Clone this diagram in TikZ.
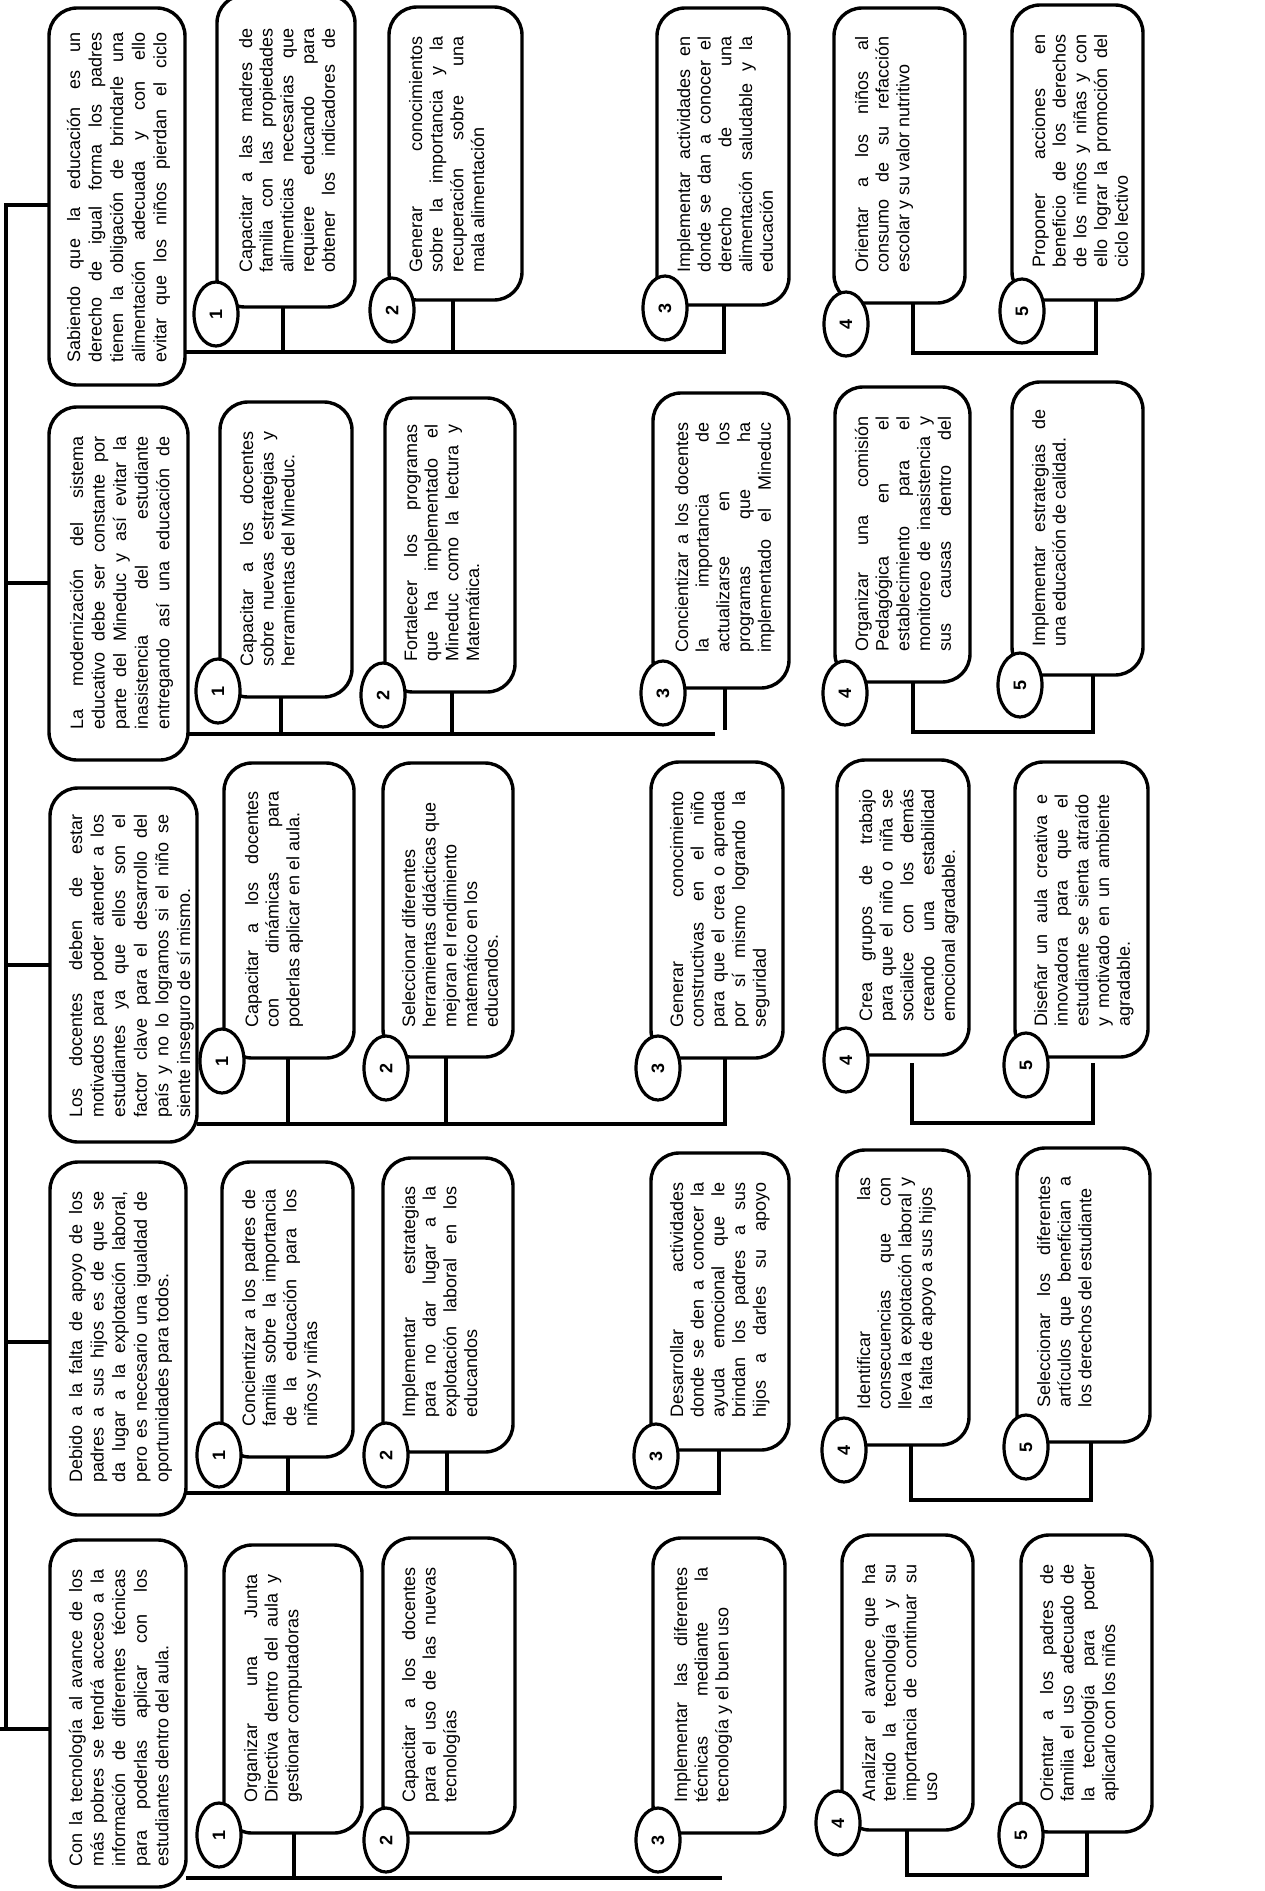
\documentclass[tikz,border=0pt]{standalone}
\usepackage{fontspec}
\setmainfont{Liberation Sans}
\usetikzlibrary{shapes.geometric}
\newlength\tw
\newcommand\J[1]{\makebox[\tw][s]{#1}\\}
\newcommand\JJ[1]{\makebox[\tw][s]{#1}}
\newcommand\bx[5]{\node[box,minimum width={#4-#2},minimum height={#5-#3}] (#1) at ({(#2+#4)/2},{-(#3+#5)/2}) {};}
\newcommand\tx[5]{\node[txt,text width=#4pt] (#1) at (#2,-#3) {\spaceskip=0pt\xspaceskip=0pt\setlength{\tw}{#4pt}#5};}
\newcommand\mt[5]{\node[mtxt,text width=#4pt] (#1) at (#2,-#3) {\spaceskip=0pt\xspaceskip=0pt\setlength{\tw}{#4pt}#5};}
\tikzset{
  box/.style={draw,line width=3.4pt,rounded corners=28pt,inner sep=0pt,outer sep=0pt},
  txt/.style={rotate=90,anchor=base west,inner sep=0pt,align=left,font=\fontsize{18}{20.7}\selectfont},
  mtxt/.style={txt,font=\fontsize{18}{21.6}\selectfont},
  num/.style={draw,ellipse,fill=white,line width=3.2pt,rotate=90,minimum width=64pt,minimum height=44pt,inner sep=0pt,font=\fontsize{18}{18}\selectfont\bfseries},
  conn/.style={line width=3.4pt}
}
\begin{document}
\begin{tikzpicture}[x=1pt,y=1pt]
\useasboundingbox (0,0) rectangle (1265,-1891);
\clip (0,0) rectangle (1265,-1891);
% ---------------- boxes
\bx{M1}{49}{8}{185}{385}
\bx{B11}{217}{-5}{355}{307}
\bx{B12}{389}{7}{522}{300}
\bx{B13}{657}{8}{789}{305}
\bx{B14}{834}{8}{965}{303}
\bx{B15}{1012}{5}{1143}{300}
\bx{M2}{49}{407}{188}{760}
\bx{B21}{220}{402}{352}{697}
\bx{B22}{385}{398}{515}{692}
\bx{B23}{653}{393}{789}{688}
\bx{B24}{835}{387}{970}{682}
\bx{B25}{1012}{382}{1143}{675}
\bx{M3}{50}{788}{197}{1142}
\bx{B31}{224}{763}{354}{1058}
\bx{B32}{383}{763}{513}{1057}
\bx{B33}{651}{762}{783}{1058}
\bx{B34}{837}{760}{969}{1055}
\bx{B35}{1015}{762}{1148}{1057}
\bx{M4}{50}{1162}{186}{1515}
\bx{B41}{222}{1162}{353}{1457}
\bx{B42}{383}{1158}{513}{1452}
\bx{B43}{651}{1153}{789}{1450}
\bx{B44}{837}{1150}{969}{1445}
\bx{B45}{1017}{1148}{1150}{1442}
\bx{M5}{50}{1540}{186}{1887}
\bx{B51}{224}{1545}{362}{1833}
\bx{B52}{383}{1538}{515}{1833}
\bx{B53}{653}{1538}{785}{1833}
\bx{B54}{842}{1535}{973}{1830}
\bx{B55}{1021}{1535}{1152}{1832}
% ---------------- trunk
\coordinate (tk1) at (6,-205);
\coordinate (tk2) at (6,-583);
\coordinate (tk3) at (6,-965);
\coordinate (tk4) at (6,-1342);
\coordinate (tk5) at (6,-1729);
\coordinate (tk0) at (0,-1729);
\draw[conn] ([yshift=2pt]tk1) -- (tk5);
\draw[conn] (tk1) -- (M1.west |- tk1);
\draw[conn] (tk2) -- (M2.west |- tk2);
\draw[conn] (tk3) -- (M3.west |- tk3);
\draw[conn] (tk4) -- (M4.west |- tk4);
\draw[conn] (tk0) -- (M5.west |- tk0);
% ---------------- band 1 connectors
\coordinate (h1) at (724,-352);
\coordinate (v11) at (283,-352);
\coordinate (v12) at (453,-352);
\draw[conn] (M1.east |- h1) -- (h1) -- (h1 |- B13.south);
\draw[conn] (v11 |- B11.south) -- (v11);
\draw[conn] (v12 |- B12.south) -- (v12);
\coordinate (p1) at (913,-353);
\coordinate (q1) at (1096,-353);
\draw[conn] (p1 |- B14.south) -- (p1) -- (q1) -- (q1 |- B15.south);
% ---------------- band 2 connectors
\coordinate (h2) at (715,-734);
\coordinate (v21) at (281,-734);
\coordinate (v22) at (452,-734);
\coordinate (v23) at (725,-730);
\draw[conn] (M2.east |- h2) -- (h2);
\draw[conn] (v21 |- B21.south) -- (v21);
\draw[conn] (v22 |- B22.south) -- (v22);
\draw[conn] (v23 |- B23.south) -- (v23);
\coordinate (p2) at (913,-732);
\coordinate (q2) at (1093,-732);
\draw[conn] (p2 |- B24.south) -- (p2) -- (q2) -- (q2 |- B25.south);
% ---------------- band 3 connectors
\coordinate (h3) at (725,-1124);
\coordinate (v31) at (288,-1124);
\coordinate (v32) at (446,-1124);
\draw[conn] (M3.east |- h3) -- (h3) -- (h3 |- B33.south);
\draw[conn] (v31 |- B31.south) -- (v31);
\draw[conn] (v32 |- B32.south) -- (v32);
\coordinate (p3) at (912,-1123);
\coordinate (q3) at (1093,-1123);
\coordinate (r3) at (0,-1063);
\draw[conn] (p3 |- r3) -- (p3) -- (q3) -- (q3 |- r3);
% ---------------- band 4 connectors
\coordinate (h4) at (719,-1493);
\coordinate (v41) at (288,-1493);
\coordinate (v42) at (447,-1493);
\draw[conn] (M4.east |- h4) -- (h4) -- (h4 |- B43.south);
\draw[conn] (v41 |- B41.south) -- (v41);
\draw[conn] (v42 |- B42.south) -- (v42);
\coordinate (p4) at (911,-1500);
\coordinate (q4) at (1091,-1500);
\draw[conn] (p4 |- B44.south) -- (p4) -- (q4) -- (q4 |- B45.south);
% ---------------- band 5 connectors
\coordinate (h5) at (722,-1878);
\coordinate (v51) at (294,-1878);
\draw[conn] (M5.east |- h5) -- (h5);
\draw[conn] (v51 |- B51.south) -- (v51);
\coordinate (p5) at (907,-1875);
\coordinate (q5) at (1087,-1875);
\draw[conn] (p5 |- B54.south) -- (p5) -- (q5) -- (q5 |- B55.south);
% ---------------- number ellipses
\node[num] (n11) at (216,-314) {1};
\node[num] (n12) at (392,-310) {2};
\node[num] (n13) at (665,-308) {3};
\node[num] (n14) at (846,-324) {4};
\node[num] (n15) at (1022,-311) {5};
\node[num] (n21) at (218,-691) {1};
\node[num] (n22) at (383,-695) {2};
\node[num] (n23) at (663,-693) {3};
\node[num] (n24) at (845,-693) {4};
\node[num] (n25) at (1020,-685) {5};
\node[num] (n31) at (222,-1061) {1};
\node[num] (n32) at (386,-1068) {2};
\node[num] (n33) at (658,-1068) {3};
\node[num] (n34) at (846,-1060) {4};
\node[num] (n35) at (1026,-1065) {5};
\node[num] (n41) at (219,-1455) {1};
\node[num] (n42) at (386,-1455) {2};
\node[num] (n43) at (656,-1456) {3};
\node[num] (n44) at (844,-1450) {4};
\node[num] (n45) at (1026,-1447) {5};
\node[num] (n51) at (219,-1835) {1};
\node[num] (n52) at (386,-1840) {2};
\node[num] (n53) at (658,-1840) {3};
\node[num] (n54) at (838,-1823) {4};
\node[num] (n55) at (1021,-1835) {5};
% ---------------- main texts
\mt{tm1}{80}{363}{330}{\J{Sabiendo que la educación es un}\J{derecho de igual forma los padres}\J{tienen la obligación de brindarle una}\J{alimentación adecuada y con ello}\JJ{evitar que los niños pierdan el ciclo}}
\mt{tm2}{83}{730}{293}{\J{La modernización del sistema}\J{educativo debe ser constante por}\J{parte del Mineduc y así evitar la}\J{inasistencia del estudiante}\JJ{entregando así una educación de}}
\mt{tm3}{82}{1118}{303}{\J{Los docentes deben de estar}\J{motivados para poder atender a los}\J{estudiantes ya que ellos son el}\J{factor clave para el desarrollo del}\J{país y no lo logramos si el niño se}siente inseguro de sí mismo.}
\mt{tm4}{82}{1483}{291}{\J{Debido a la falta de apoyo de los}\J{padres a sus hijos es de que se}\J{da lugar a la explotación laboral,}\J{pero es necesario una igualdad de}oportunidades para todos.}
\mt{tm5}{82}{1867}{297}{\J{Con la tecnología al avance de los}\J{más pobres se tendrá acceso a la}\J{información de diferentes técnicas}\J{para poderlas aplicar con los}estudiantes dentro del aula.}
% ---------------- band 1 texts
\tx{t11}{252}{273}{244}{\J{Capacitar a las madres de}\J{familia con las propiedades}\J{alimenticias necesarias que}\J{requiere educando para}\JJ{obtener los indicadores de}}
\tx{t12}{422}{273}{236}{\J{Generar conocimientos}\J{sobre la importancia y la}\J{recuperación sobre una}mala alimentación}
\tx{t13}{690}{273}{236}{\J{Implementar actividades en}\J{donde se dan a conocer el}\J{derecho de una}\J{alimentación saludable y la}educación}
\tx{t14}{868}{273}{236}{\J{Orientar a los niños al}\J{consumo de su refacción}escolar y su valor nutritivo}
\tx{t15}{1045}{268}{233}{\J{Proponer acciones en}\J{beneficio de los derechos}\J{de los niños y niñas y con}\J{ello lograr la promoción del}ciclo lectivo}
% ---------------- band 2 texts
\tx{t21}{253}{667}{235}{\J{Capacitar a los docentes}\J{sobre nuevas estrategias y}herramientas del Mineduc.}
\tx{t22}{417}{662}{237}{\J{Fortalecer los programas}\J{que ha implementado el}\J{Mineduc como la lectura y}Matemática.}
\tx{t23}{688}{653}{230}{\J{Concientizar a los docentes}\J{la importancia de}\J{actualizarse en los}\J{programas que ha}\JJ{implementado el Mineduc}}
\tx{t24}{868}{652}{235}{\J{Organizar una comisión}\J{Pedagógica en el}\J{establecimiento para el}\J{monitoreo de inasistencia y}\JJ{sus causas dentro del}}
\tx{t25}{1045}{647}{237}{\J{Implementar estrategias de}una educación de calidad.}
% ---------------- band 3 texts
\tx{t31}{258}{1028}{236}{\J{Capacitar a los docentes}\J{con dinámicas para}poderlas aplicar en el aula.}
\tx{t32}{415}{1028}{236}{Seleccionar diferentes\\herramientas didácticas que\\mejoran el rendimiento\\matemático en los\\educandos.}
\tx{t33}{683}{1028}{236}{\J{Generar conocimiento}\J{constructivas en el niño}\J{para que el crea o aprenda}\J{por sí mismo logrando la}seguridad}
\tx{t34}{872}{1022}{232}{\J{Crea grupos de trabajo}\J{para que el niño o niña se}\J{socialice con los demás}\J{creando una estabilidad}emocional agradable.}
\tx{t35}{1047}{1027}{232}{\J{Diseñar un aula creativa e}\J{innovadora para que el}\J{estudiante se sienta atraído}\J{y motivado en un ambiente}agradable.}
% ---------------- band 4 texts
\tx{t41}{255}{1427}{237}{\J{Concientizar a los padres de}\J{familia sobre la importancia}\J{de la educación para los}niños y niñas}
\tx{t42}{415}{1418}{231}{\J{Implementar estrategias}\J{para no dar lugar a la}\J{explotación laboral en los}educandos}
\tx{t43}{683}{1418}{235}{\J{Desarrollar actividades}\J{donde se den a conocer la}\J{ayuda emocional que le}\J{brindan los padres a sus}\JJ{hijos a darles su apoyo}}
\tx{t44}{870}{1410}{232}{\J{Identificar las}\J{consecuencias que con}\J{lleva la explotación laboral y}la falta de apoyo a sus hijos}
\tx{t45}{1050}{1408}{231}{\J{Seleccionar los diferentes}\J{artículos que benefician a}los derechos del estudiante}
% ---------------- band 5 texts
\tx{t51}{257}{1803}{228}{\J{Organizar una Junta}\J{Directiva dentro del aula y}gestionar computadoras}
\tx{t52}{415}{1803}{235}{\J{Capacitar a los docentes}\J{para el uso de las nuevas}tecnologías}
\tx{t53}{687}{1803}{235}{\J{Implementar las diferentes}\J{técnicas mediante la}tecnología y el buen uso}
\tx{t54}{875}{1802}{237}{\J{Analizar el avance que ha}\J{tenido la tecnología y su}\J{importancia de continuar su}uso}
\tx{t55}{1053}{1802}{237}{\J{Orientar a los padres de}\J{familia el uso adecuado de}\J{la tecnología para poder}aplicarlo con los niños}
\end{tikzpicture}
\end{document}
